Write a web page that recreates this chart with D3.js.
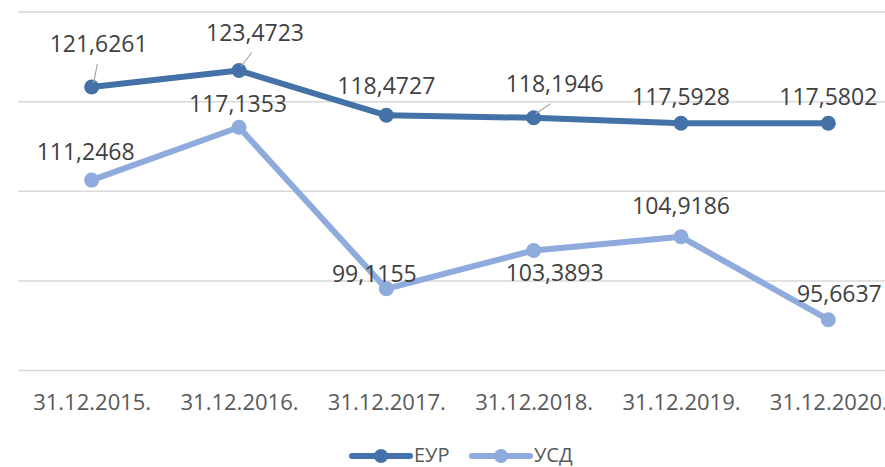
<!DOCTYPE html>
<html>
<head>
<meta charset="utf-8">
<script src="https://cdn.jsdelivr.net/npm/d3@7"></script>
<style>
  body { margin: 0; background: #fff; }
  svg { display: block; font-family: "Open Sans", "Liberation Sans", sans-serif; }
</style>
</head>
<body>
<svg id="chart"></svg>
<script>
// Data
const dates = ["31.12.2015.", "31.12.2016.", "31.12.2017.", "31.12.2018.", "31.12.2019.", "31.12.2020."];
const eurValues = [121.6261, 123.4723, 118.4727, 118.1946, 117.5928, 117.5802];
const usdValues = [111.2468, 117.1353, 99.1155, 103.3893, 104.9186, 95.6637];
const yTicks = [90, 100, 110, 120, 130];
const seriesNames = ["ЕУР", "УСД"];

// label offsets (dx, dy from the point to the label baseline centre), as placed in the original
const eurLabelOffsets = [[7, -35], [16, -30], [0, -21], [21, -26], [0, -18], [0, -18]];
const usdLabelOffsets = [[-6, -20], [-1, -15], [-12, -7], [21, 31], [0, -23], [11, -18]];
// which labels have a leader line
const eurLeaders = [true, true, false, true, false, false];

const width = 885, height = 467;
const colors = ["#4472a8", "#8faadc"];

const svg = d3.select("#chart").attr("width", width).attr("height", height);

const x = d3.scalePoint().domain(dates).range([18, 902]).padding(0.5);
const y = d3.scaleLinear().domain([90, 130]).range([370.5, 12]);

// gridlines
svg.append("g")
  .selectAll("line")
  .data(yTicks)
  .join("line")
  .attr("x1", 18).attr("x2", 902)
  .attr("y1", d => y(d)).attr("y2", d => y(d))
  .attr("stroke", "#d9d9d9")
  .attr("stroke-width", 1.5);

// x axis labels
const xAxis = d3.axisBottom(x).tickSize(0).tickPadding(0);
const gx = svg.append("g").attr("transform", "translate(0,410)").call(xAxis);
gx.select(".domain").remove();
gx.selectAll("text")
  .attr("y", 0)
  .attr("dy", 0)
  .attr("fill", "#595959")
  .style("font-size", "22px")
  .style("font-family", "'Open Sans', sans-serif");

const fmt = v => String(v.toFixed(4)).replace(".", ",");

const line = d3.line().x((d, i) => x(dates[i])).y(d => y(d));

function drawSeries(values, color, offsets, leaders) {
  const g = svg.append("g");
  g.append("path")
    .datum(values)
    .attr("d", line)
    .attr("fill", "none")
    .attr("stroke", color)
    .attr("stroke-width", 6)
    .attr("stroke-linejoin", "round");
  g.selectAll("circle")
    .data(values)
    .join("circle")
    .attr("cx", (d, i) => x(dates[i]))
    .attr("cy", d => y(d))
    .attr("r", 7.5)
    .attr("fill", color);
  if (leaders) {
    g.selectAll("line.leader")
      .data(values.map((v, i) => i).filter(i => leaders[i]))
      .join("line")
      .attr("class", "leader")
      .attr("x1", i => x(dates[i]) + 2)
      .attr("y1", i => y(values[i]) - 4)
      .attr("x2", i => x(dates[i]) + offsets[i][0] * 0.8)
      .attr("y2", i => y(values[i]) + offsets[i][1] + 12)
      .attr("stroke", "#a6a6a6")
      .attr("stroke-width", 1.2);
  }
  g.selectAll("text")
    .data(values)
    .join("text")
    .attr("x", (d, i) => x(dates[i]) + offsets[i][0])
    .attr("y", (d, i) => y(d) + offsets[i][1])
    .attr("text-anchor", "middle")
    .attr("fill", "#404040")
    .style("font-size", "23px")
    .text(d => fmt(d));
}

drawSeries(eurValues, colors[0], eurLabelOffsets, eurLeaders);
drawSeries(usdValues, colors[1], usdLabelOffsets, null);

// legend
const legend = svg.append("g").attr("transform", "translate(352,456)");
seriesNames.forEach((name, i) => {
  const lg = legend.append("g").attr("transform", `translate(${i * 120},0)`);
  lg.append("line")
    .attr("x1", 0).attr("x2", 58)
    .attr("y1", 0).attr("y2", 0)
    .attr("stroke", colors[i])
    .attr("stroke-width", 6)
    .attr("stroke-linecap", "round");
  lg.append("circle").attr("cx", 29).attr("cy", 0).attr("r", 7).attr("fill", colors[i]);
  lg.append("text")
    .attr("x", 62).attr("y", 6)
    .attr("fill", "#595959")
    .style("font-size", "20px")
    .text(name);
});
</script>
</body>
</html>
